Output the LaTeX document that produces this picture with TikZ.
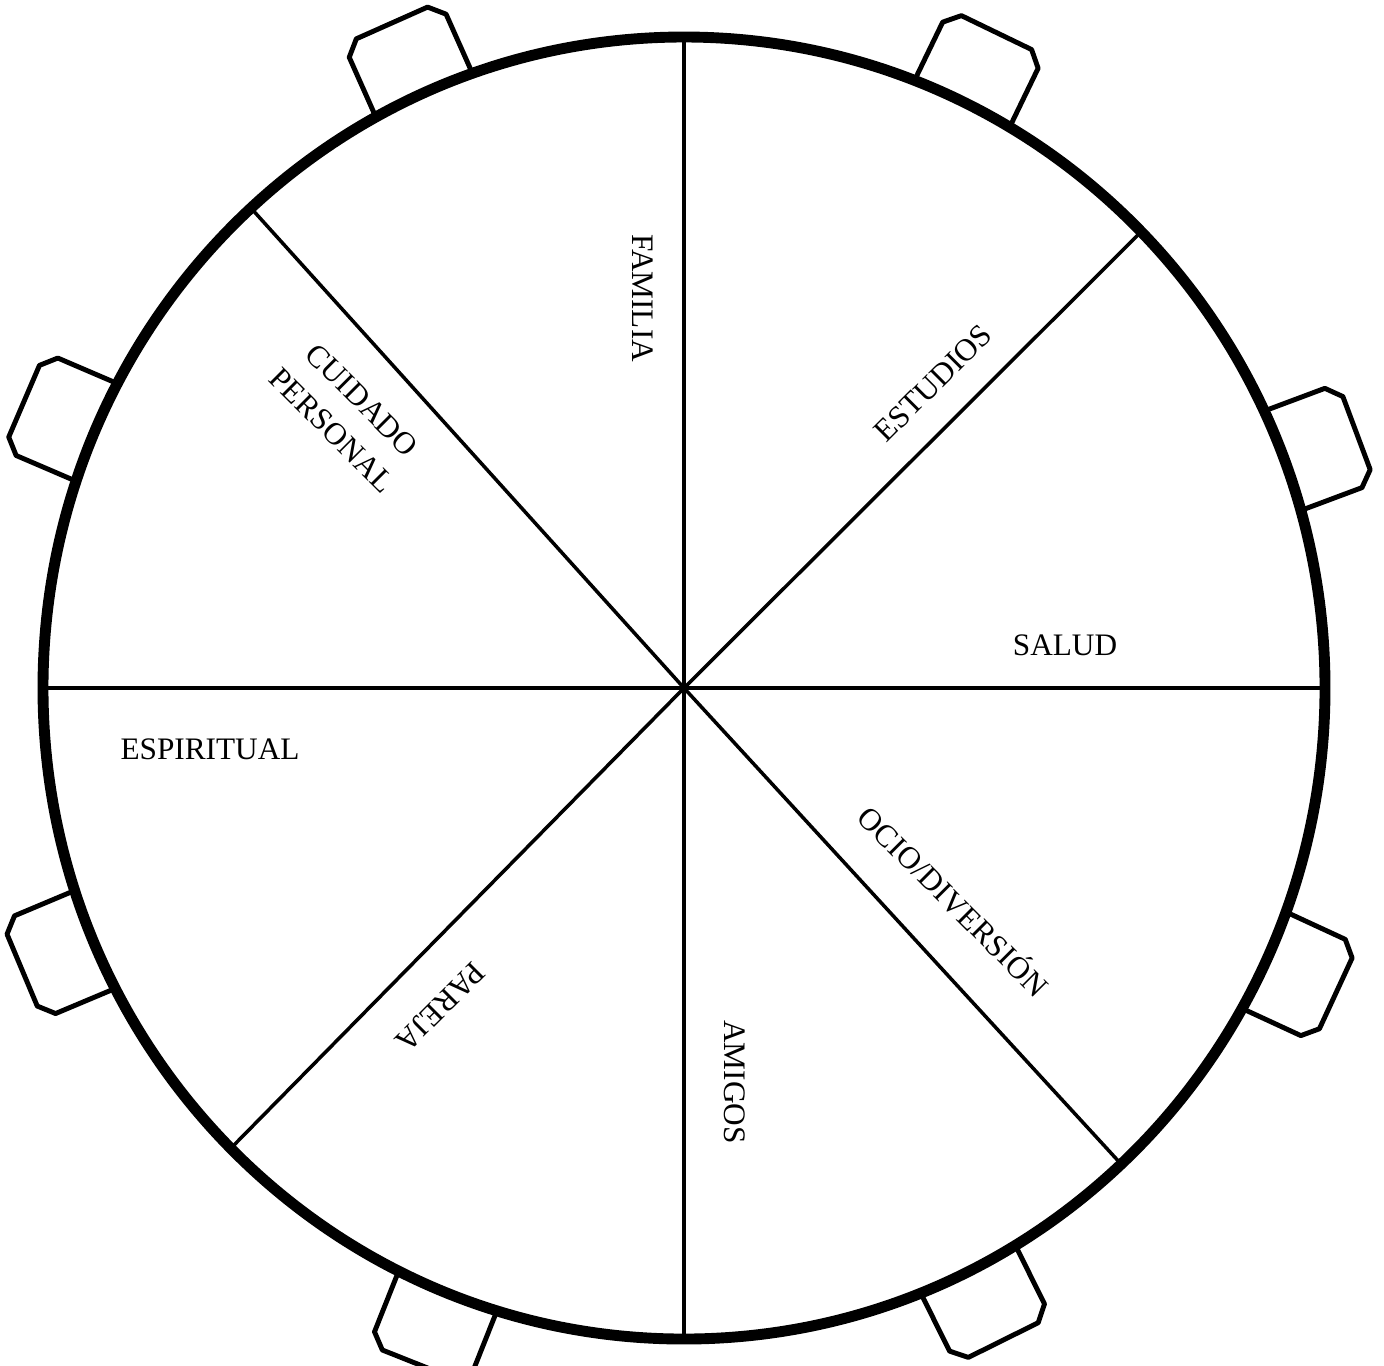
\documentclass[tikz,border=0pt]{standalone}
\usepackage{fontspec}
\setmainfont{Liberation Serif}
\usetikzlibrary{calc}
\tikzset{
  mesa/.style={line width=3.1pt, fill=white},
  silla/.style={line width=1.4pt, fill=white, line join=round},
  sector/.style={line width=1pt},
  etiqueta/.style={font=\fontsize{8.9}{12.2}\selectfont, inner sep=0pt, align=center}
}
\begin{document}
\begin{tikzpicture}
    \useasboundingbox (0,0) rectangle (13.84,-13.65);
    \coordinate (O) at (6.84,-6.88);

    % Sillas alrededor de la mesa
    \foreach \a in {20.5,64.2,114,156.8,202.8,248.3,296.4,335.2} {
        \begin{scope}[shift={($(O)+(\a:6.41 and 6.51)$)}, rotate=\a-90]
            \draw[silla] (-0.53,-0.5) -- (-0.53,0.63) -- (-0.39,0.77) -- (0.39,0.77)
                -- (0.53,0.63) -- (0.53,-0.5) -- cycle;
        \end{scope}
    }

    % Mesa
    \draw[mesa] (O) ellipse [x radius=6.41, y radius=6.51];

    % Sectores
    \foreach \a/\n in {0/r0,44.5/r1,90/r2,132.5/r3,180/r4,225/r5,270/r6,313/r7} {
        \coordinate (\n) at ($(O)+(\a:6.41 and 6.51)$);
        \draw[sector] (O) -- (\n);
    }

    % Etiquetas de los sectores
    \node[etiqueta, rotate=-90] (familia) at (6.43,-2.98) {FAMILIA};
    \node[etiqueta, rotate=45] (estudios) at (9.33,-3.83) {ESTUDIOS};
    \node[etiqueta] (salud) at (10.65,-6.45) {SALUD};
    \node[etiqueta, rotate=-45] (ocio) at (9.55,-9.0) {OCIO/DIVERSIÓN};
    \node[etiqueta, rotate=-90] (amigos) at (7.35,-10.82) {AMIGOS};
    \node[etiqueta, rotate=225] (pareja) at (4.40,-10.07) {PAREJA};
    \node[etiqueta] (espiritual) at (2.10,-7.49) {ESPIRITUAL};
    \node[etiqueta, rotate=-45] (cuidado) at (3.47,-4.15) {CUIDADO\\PERSONAL};
\end{tikzpicture}
\end{document}
